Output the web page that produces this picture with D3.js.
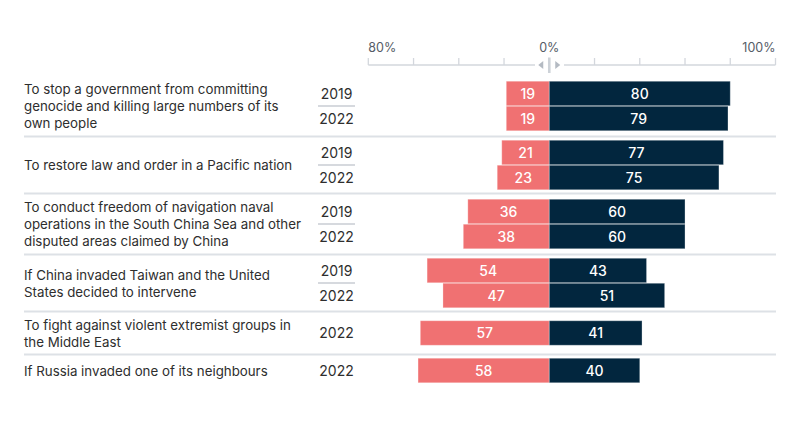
<!DOCTYPE html>
<html><head><meta charset="utf-8">
<script src="https://cdn.jsdelivr.net/npm/d3@7"></script>
<style>
body{margin:0;background:#fff;}
svg{display:block;font-family:Inter,"Liberation Sans",Arial,sans-serif;}
</style></head>
<body><svg id="c" width="800" height="432"></svg>
<script>
const categories = [
  "To stop a government from committing\ngenocide and killing large numbers of its\nown people",
  "To restore law and order in a Pacific nation",
  "To conduct freedom of navigation naval\noperations in the South China Sea and other\ndisputed areas claimed by China",
  "If China invaded Taiwan and the United\nStates decided to intervene",
  "To fight against violent extremist groups in\nthe Middle East",
  "If Russia invaded one of its neighbours"
];
const years = [["2019","2022"],["2019","2022"],["2019","2022"],["2019","2022"],["2022"],["2022"]];
const against = [[19,19],[21,23],[36,38],[54,47],[57],[58]];
const support = [[80,79],[77,75],[60,60],[43,51],[41],[40]];
const tickValues = [-80,-60,-40,-20,0,20,40,60,80,100];
const tickLabels = {"-80":"80%","0":"0%","100":"100%"};

(function(){
const svg = d3.select("#c");
const x = d3.scaleLinear().domain([-80,100]).range([368.3,775.5]);
const RED="#f07172", NAVY="#02263e", TXT="#2e2e2e", SEP="#dde1e6";
const barStep = 25, barH = 24.5, lineH = 17;

// axis
const axisY = 65;
const ax = svg.append("g");
ax.append("line").attr("x1",x(-80)).attr("x2",535).attr("y1",axisY).attr("y2",axisY).attr("stroke","#d3d7dd").attr("stroke-width",1.3);
ax.append("line").attr("x1",564).attr("x2",x(100)).attr("y1",axisY).attr("y2",axisY).attr("stroke","#d3d7dd").attr("stroke-width",1.3);
ax.selectAll("line.tk").data(tickValues.filter(d=>d!==0)).join("line").attr("class","tk")
  .attr("x1",d=>x(d)).attr("x2",d=>x(d)).attr("y1",58).attr("y2",axisY)
  .attr("stroke","#d3d7dd").attr("stroke-width",1.3);
ax.append("rect").attr("x",x(0)-1.3).attr("y",57.5).attr("width",2.6).attr("height",15.5).attr("fill","#cdd2d8");
ax.append("path").attr("d",`M${x(0)-11},${axisY} l5,-4 v8 z`).attr("fill","#b4bac2");
ax.append("path").attr("d",`M${x(0)+11},${axisY} l-5,-4 v8 z`).attr("fill","#b4bac2");
ax.selectAll("text").data(tickValues.filter(d=>tickLabels[d])).join("text")
  .attr("x",d=>x(d)).attr("y",52)
  .attr("text-anchor",d=>d<0?"start":(d>0?"end":"middle"))
  .attr("font-size",12.5).attr("fill","#555c66").text(d=>tickLabels[d]);

// groups
let gTop = 75.5;
categories.forEach((cat,i)=>{
  const lines = cat.split("\n");
  const nb = years[i].length;
  const h = Math.max(nb*barStep+7, lines.length*18+7);
  const cy = gTop + h/2;
  const g = svg.append("g");
  if(i>0){
    g.append("line").attr("x1",24).attr("x2",776).attr("y1",gTop).attr("y2",gTop).attr("stroke",SEP).attr("stroke-width",2);
  }
  const t = g.append("text").attr("font-size",13.3).attr("fill",TXT);
  lines.forEach((l,j)=>{
    t.append("tspan").attr("x",24).attr("y",cy + (j-(lines.length-1)/2)*lineH + 5).text(l);
  });
  const by0 = cy - nb*barStep/2;
  years[i].forEach((yr,k)=>{
    const by = by0 + k*barStep;
    const mid = by + barStep/2;
    g.append("text").attr("x",336.5).attr("y",mid+5).attr("text-anchor","middle").attr("font-size",14).attr("fill",TXT).text(yr);
    if(k<nb-1){
      g.append("line").attr("x1",318).attr("x2",355).attr("y1",by+barStep).attr("y2",by+barStep).attr("stroke","#c9cdd3").attr("stroke-width",1.5);
    }
    const a = against[i][k], s = support[i][k];
    g.append("rect").attr("x",x(-a)).attr("y",by+0.25).attr("width",x(0)-x(-a)).attr("height",barH)
      .attr("fill",RED).attr("stroke","rgba(255,255,255,0.25)").attr("stroke-width",1);
    g.append("rect").attr("x",x(0)).attr("y",by+0.25).attr("width",x(s)-x(0)).attr("height",barH)
      .attr("fill",NAVY).attr("stroke","rgba(255,255,255,0.3)").attr("stroke-width",1);
    g.append("text").attr("x",(x(-a)+x(0))/2).attr("y",mid+5).attr("text-anchor","middle").attr("font-size",14).attr("font-weight",500).attr("fill","#fff").text(a);
    g.append("text").attr("x",(x(s)+x(0))/2).attr("y",mid+5).attr("text-anchor","middle").attr("font-size",14).attr("font-weight",500).attr("fill","#fff").text(s);
  });
  gTop += h;
});
})();
</script></body></html>
